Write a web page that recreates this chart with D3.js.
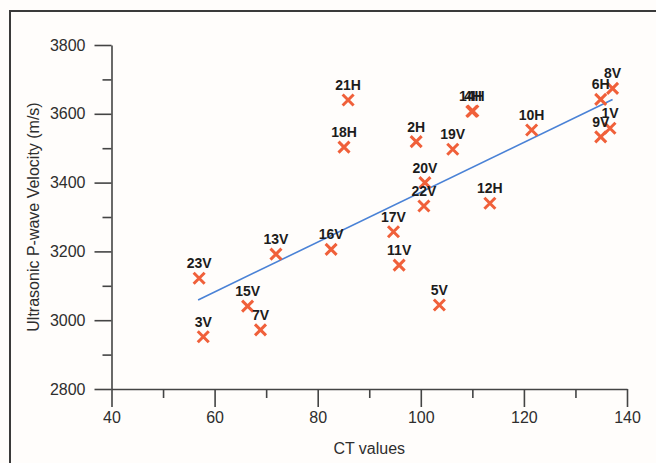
<!DOCTYPE html>
<html>
<head>
<meta charset="utf-8">
<script src="https://cdn.jsdelivr.net/npm/d3@7"></script>
<style>
  html, body { margin: 0; padding: 0; background: #fffdfb; }
  svg { display: block; }
  text { font-family: "Liberation Sans", Arial, sans-serif; }
</style>
</head>
<body>
<svg id="chart" width="656" height="463"></svg>
<script>
// Sample identifiers, CT values and ultrasonic P-wave velocities (m/s)
const samples = ["1V","2H","3V","4H","5V","6H","7V","8V","9V","10H","11V","12H",
                 "13V","14H","15V","16V","17V","18H","19V","20V","21H","22V","23V"];
const ctValues = [136.7, 99.1, 57.8, 110.1, 103.6, 134.9, 68.9, 137.2, 134.9, 121.5, 95.8, 113.4,
                  71.9, 109.9, 66.4, 82.6, 94.7, 85.1, 106.2, 100.8, 85.9, 100.6, 57.0];
const velocities = [3558, 3519, 2952, 3608, 3044, 3642, 2972, 3674, 3533, 3553, 3160, 3340,
                    3192, 3607, 3041, 3206, 3257, 3503, 3497, 3400, 3640, 3332, 3122];

// Linear trend: velocity = intercept + slope * CT, drawn over the CT range of the samples
const trendCoef = [2647, 7.25];
const trendRange = [56.8, 137.2];

const xTicks = [40, 60, 80, 100, 120, 140];
const yTicks = [2800, 3000, 3200, 3400, 3600, 3800];

const svg = d3.select("#chart");

// Outer frame
svg.append("path")
  .attr("d", "M10,463V11H656")
  .attr("fill", "none")
  .attr("stroke", "#3a3a3a")
  .attr("stroke-width", 2);

const x = d3.scaleLinear().domain([40, 140]).range([111.5, 627]);
const y = d3.scaleLinear().domain([2800, 3800]).range([389, 45]);

const axisColor = "#444";
const textColor = "#2e2e2e";

// X axis with major and minor ticks
const xMinor = d3.range(50, 140, 20);
const gx = svg.append("g").attr("transform", `translate(0,${y(2800)})`);
gx.append("g")
  .call(d3.axisBottom(x).tickValues(xMinor).tickSize(9).tickFormat(""))
  .call(g => g.select(".domain").remove());
gx.append("g")
  .call(d3.axisBottom(x).tickValues(xTicks).tickSize(18).tickSizeOuter(0).tickPadding(5).tickFormat(d3.format("d")));
gx.selectAll("line, path").attr("stroke", axisColor).attr("stroke-width", 1.6);
gx.selectAll("text").attr("font-size", 16).attr("fill", textColor);

// Y axis with major and minor ticks
const yMinor = d3.range(2900, 3800, 200);
const gy = svg.append("g").attr("transform", `translate(${x(40)},0)`);
gy.append("g")
  .call(d3.axisLeft(y).tickValues(yMinor).tickSize(9).tickFormat(""))
  .call(g => g.select(".domain").remove());
gy.append("g")
  .call(d3.axisLeft(y).tickValues(yTicks).tickSize(17).tickSizeOuter(0).tickPadding(9).tickFormat(d3.format("d")));
gy.selectAll("line, path").attr("stroke", axisColor).attr("stroke-width", 1.6);
gy.selectAll("text").attr("font-size", 16).attr("fill", textColor);

// Axis titles
svg.append("text")
  .attr("x", (x(40) + x(140)) / 2)
  .attr("y", 454)
  .attr("text-anchor", "middle")
  .attr("font-size", 16)
  .attr("fill", textColor)
  .text("CT values");

svg.append("text")
  .attr("transform", `translate(39,${(y(2800) + y(3800)) / 2}) rotate(-90)`)
  .attr("text-anchor", "middle")
  .attr("font-size", 16)
  .attr("fill", textColor)
  .text("Ultrasonic P-wave Velocity (m/s)");

// Trend line
svg.append("line")
  .attr("x1", x(trendRange[0]))
  .attr("y1", y(trendCoef[0] + trendCoef[1] * trendRange[0]))
  .attr("x2", x(trendRange[1]))
  .attr("y2", y(trendCoef[0] + trendCoef[1] * trendRange[1]))
  .attr("stroke", "#4a82d6")
  .attr("stroke-width", 1.6);

const data = samples.map((s, i) => ({ id: s, ct: ctValues[i], v: velocities[i] }));

// Cross markers
const r = 5.5;
svg.append("g")
  .selectAll("path")
  .data(data)
  .join("path")
  .attr("d", `M${-r},${-r}L${r},${r}M${-r},${r}L${r},${-r}`)
  .attr("transform", d => `translate(${x(d.ct)},${y(d.v)})`)
  .attr("fill", "none")
  .attr("stroke", "#f0603a")
  .attr("stroke-width", 3);

// Sample labels
svg.append("g")
  .selectAll("text")
  .data(data)
  .join("text")
  .attr("x", d => x(d.ct))
  .attr("y", d => y(d.v) - 10)
  .attr("text-anchor", "middle")
  .attr("font-size", 14)
  .attr("font-weight", "bold")
  .attr("fill", "#1c1c1c")
  .text(d => d.id);
</script>
</body>
</html>
